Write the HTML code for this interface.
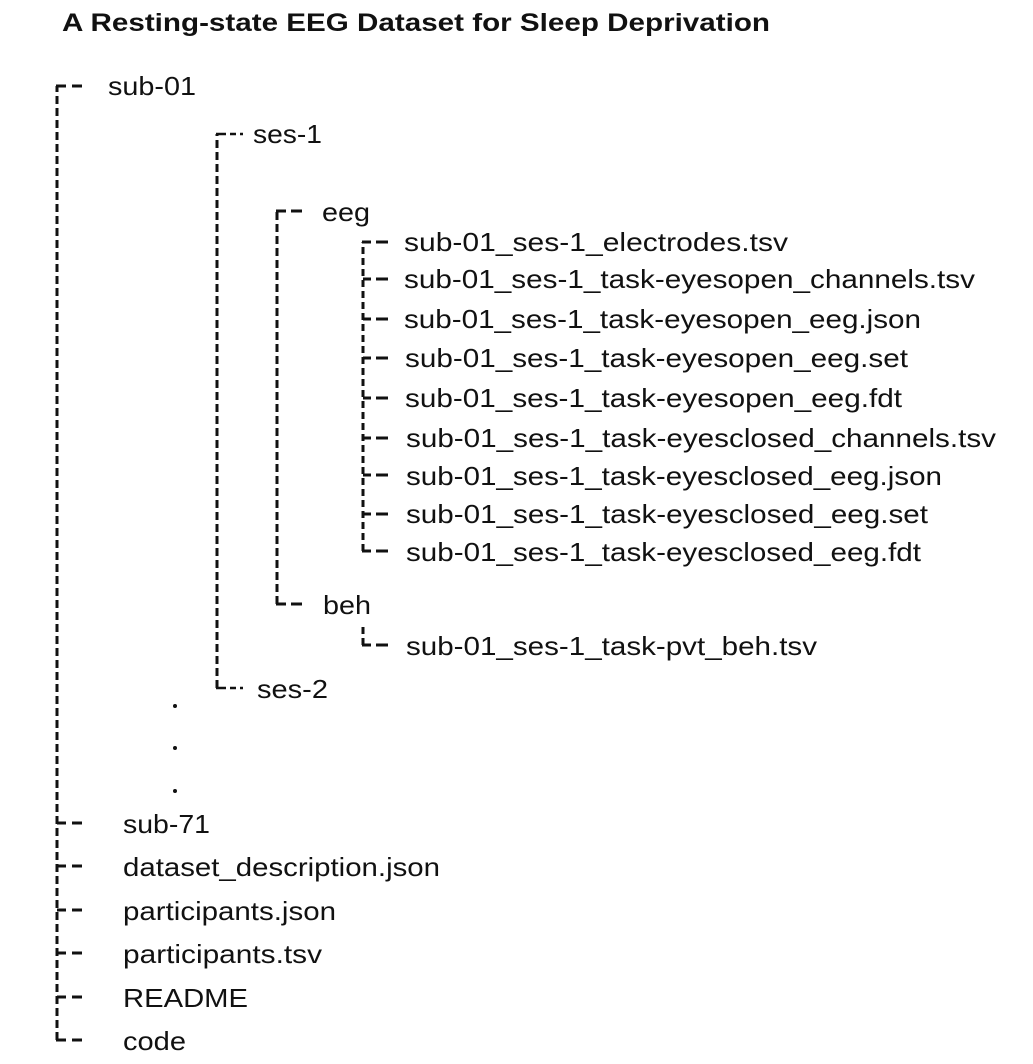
<!DOCTYPE html>
<html><head><meta charset="utf-8"><style>
html,body{margin:0;padding:0;background:#fff;width:1033px;height:1064px;overflow:hidden}
svg text{font-family:"Liberation Sans",Arial,sans-serif;font-size:26px;fill:#111}
</style></head><body>
<svg width="1033" height="1064" viewBox="0 0 1033 1064" xmlns="http://www.w3.org/2000/svg">
<text x="62" y="31" style="font-weight:bold;font-size:25px" textLength="708" lengthAdjust="spacingAndGlyphs">A Resting-state EEG Dataset for Sleep Deprivation</text>
<g stroke="#111" stroke-width="3" fill="none">
<path d="M57 1040 V86" stroke-dasharray="8 4"/>
<path d="M56 86 H66 M72 86 H82"/>
<path d="M57 823 H66 M72 823 H82 M57 866 H66 M72 866 H82 M57 910 H66 M72 910 H82 M57 953 H66 M72 953 H82 M57 997 H66 M72 997 H82 M56 1040 H66 M72 1040 H82"/>
<path d="M217 688 V134" stroke-dasharray="8 4"/>
<path d="M216 134 H226 M230 134 H236 M240 134 H243 M216 688 H226 M230 688 H236 M240 688 H243" stroke-width="2.5"/>
<path d="M277 604 V211" stroke-dasharray="8 4"/>
<path d="M276 211 H286 M291 211 H302 M276 604 H286 M291 604 H302"/>
<path d="M363 551 V242" stroke-dasharray="7 4"/>
<path d="M362 242 H371 M376 242 H388 M363 279 H371 M376 279 H388 M363 319 H371 M376 319 H388 M363 358 H371 M376 358 H388 M363 398 H371 M376 398 H388 M363 438 H371 M376 438 H388 M363 475 H371 M376 475 H388 M363 514 H371 M376 514 H388 M362 551 H371 M376 551 H388"/>
<path d="M363 627 V645" stroke-dasharray="7 4"/>
<path d="M362 645 H371 M376 645 H388"/>
</g>
<g fill="#111"><circle cx="175" cy="706" r="2"/><circle cx="175" cy="748" r="2"/><circle cx="175" cy="791" r="2"/></g>
<text x="108" y="95" textLength="88" lengthAdjust="spacingAndGlyphs">sub-01</text>
<text x="253" y="143" textLength="69" lengthAdjust="spacingAndGlyphs">ses-1</text>
<text x="322" y="221" textLength="48" lengthAdjust="spacingAndGlyphs">eeg</text>
<text x="404" y="251" textLength="384" lengthAdjust="spacingAndGlyphs">sub-01_ses-1_electrodes.tsv</text>
<text x="404" y="288" textLength="571" lengthAdjust="spacingAndGlyphs">sub-01_ses-1_task-eyesopen_channels.tsv</text>
<text x="404" y="328" textLength="517" lengthAdjust="spacingAndGlyphs">sub-01_ses-1_task-eyesopen_eeg.json</text>
<text x="405" y="367" textLength="503" lengthAdjust="spacingAndGlyphs">sub-01_ses-1_task-eyesopen_eeg.set</text>
<text x="405" y="407" textLength="497" lengthAdjust="spacingAndGlyphs">sub-01_ses-1_task-eyesopen_eeg.fdt</text>
<text x="406" y="447" textLength="590" lengthAdjust="spacingAndGlyphs">sub-01_ses-1_task-eyesclosed_channels.tsv</text>
<text x="406" y="485" textLength="536" lengthAdjust="spacingAndGlyphs">sub-01_ses-1_task-eyesclosed_eeg.json</text>
<text x="406" y="523" textLength="522" lengthAdjust="spacingAndGlyphs">sub-01_ses-1_task-eyesclosed_eeg.set</text>
<text x="406" y="561" textLength="515" lengthAdjust="spacingAndGlyphs">sub-01_ses-1_task-eyesclosed_eeg.fdt</text>
<text x="323" y="614" textLength="48" lengthAdjust="spacingAndGlyphs">beh</text>
<text x="406" y="655" textLength="411" lengthAdjust="spacingAndGlyphs">sub-01_ses-1_task-pvt_beh.tsv</text>
<text x="257" y="698" textLength="71" lengthAdjust="spacingAndGlyphs">ses-2</text>
<text x="123" y="833" textLength="87" lengthAdjust="spacingAndGlyphs">sub-71</text>
<text x="123" y="876" textLength="317" lengthAdjust="spacingAndGlyphs">dataset_description.json</text>
<text x="123" y="920" textLength="213" lengthAdjust="spacingAndGlyphs">participants.json</text>
<text x="123" y="963" textLength="199" lengthAdjust="spacingAndGlyphs">participants.tsv</text>
<text x="123" y="1007" textLength="125" lengthAdjust="spacingAndGlyphs">README</text>
<text x="123" y="1050" textLength="63" lengthAdjust="spacingAndGlyphs">code</text>
</svg>
</body></html>
